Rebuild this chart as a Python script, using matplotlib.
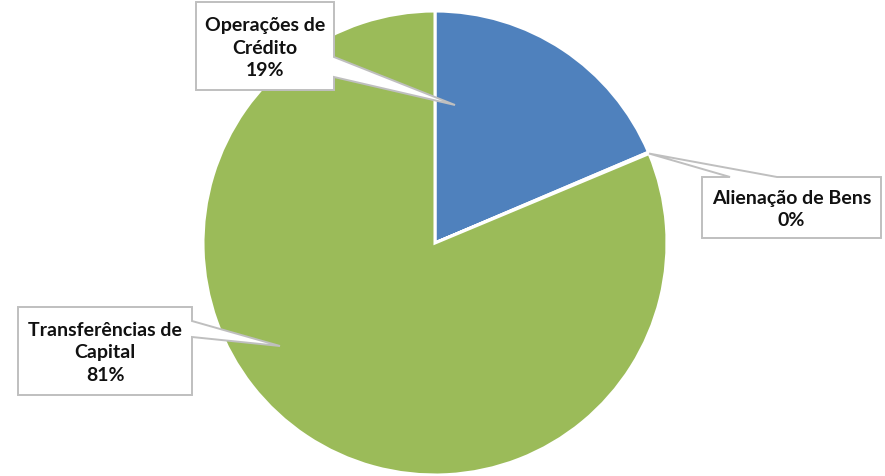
#!/usr/bin/env python3
"""
plot.py — pie chart of capital revenue sources with Excel-style callout labels.
"""
import numpy as np
import matplotlib

matplotlib.use("Agg")
import matplotlib.pyplot as plt
from matplotlib.patches import Polygon

W, H = 885, 477

# data (share of total, %)
categories = ["Operações de Crédito", "Alienação de Bens", "Transferências de Capital"]
shares = [18.6, 0.1, 81.3]
pct_labels = ["19%", "0%", "81%"]
label_lines = ["Operações de\nCrédito", "Alienação de Bens", "Transferências de\nCapital"]
colors = ["#4F81BD", "#4F81BD", "#9BBB59"]

BORDER = "#BFBFBF"


def px(x, y):
    # pixel coords (top-left origin) -> data coords
    return (x, H - y)


def callout(ax, box, tip, side, base, text):
    x0, y0, x1, y1 = box
    b0, b1 = base
    if side == "right":
        pts = [(x0, y0), (x1, y0), (x1, b0), tip, (x1, b1), (x1, y1), (x0, y1)]
    else:  # top
        pts = [(x0, y0), (b0, y0), tip, (b1, y0), (x1, y0), (x1, y1), (x0, y1)]
    poly = Polygon([px(*p) for p in pts], closed=True, facecolor="white",
                   edgecolor=BORDER, linewidth=1.4, zorder=5)
    ax.add_patch(poly)
    cx, cy = px((x0 + x1) / 2, (y0 + y1) / 2 + 1)
    ax.text(cx, cy, text, ha="center", va="center", fontsize=14,
            fontweight="bold", family=["Lato", "DejaVu Sans"], color="#111111",
            linespacing=1.4, zorder=6)


def main() -> None:
    fig = plt.figure(figsize=(W / 100, H / 100), dpi=100)
    ax = fig.add_axes([0, 0, 1, 1])

    center = px(435, 244)
    radius = 232
    wedges, _ = ax.pie(shares, colors=colors, startangle=90, counterclock=False,
                       center=center, radius=radius, frame=True,
                       wedgeprops=dict(edgecolor="white", linewidth=2.2))
    ax.set_xlim(0, W)
    ax.set_ylim(0, H)
    ax.axis("off")

    # tip for the tiny slice sits on its edge
    th = np.deg2rad(wedges[1].theta1)
    tip_ali = (center[0] + radius * np.cos(th), H - (center[1] + radius * np.sin(th)))

    texts = [f"{l}\n{p}" for l, p in zip(label_lines, pct_labels)]
    callout(ax, (196, 3, 334, 91), (455, 106), "right", (58, 78), texts[0])
    callout(ax, (702, 178, 881, 239), tip_ali, "top", (730, 777), texts[1])
    callout(ax, (18, 308, 192, 396), (280, 347), "right", (322, 338), texts[2])

    fig.savefig("out.png", dpi=100)


if __name__ == "__main__":
    main()
